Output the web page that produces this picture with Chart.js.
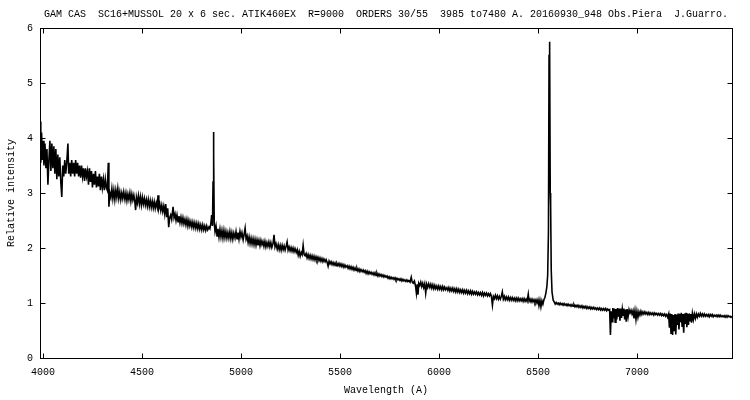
<!DOCTYPE html>
<html>
<head>
<meta charset="utf-8">
<title>GAM CAS spectrum</title>
<script src="https://cdn.jsdelivr.net/npm/chart.js@4.4.1/dist/chart.umd.min.js"></script>
<style>
  html, body { margin: 0; padding: 0; background: #fff; }
  #wrap { width: 750px; height: 400px; position: relative; }
</style>
</head>
<body>
<div id="wrap"><canvas id="spectrum"></canvas></div>
<script>
const titleText = 'GAM CAS  SC16+MUSSOL 20 x 6 sec. ATIK460EX  R=9000  ORDERS 30/55  3985 to7480 A. 20160930_948 Obs.Piera  J.Guarro.';
const xTitle = 'Wavelength (A)';
const yTitle = 'Relative intensity';
const xTicks = [4000, 4500, 5000, 5500, 6000, 6500, 7000];
const yTicks = [0, 1, 2, 3, 4, 5, 6];
const xRange = [3985, 7480];
const yRange = [0, 6];

// [wavelength (A), relative intensity]
const blueSide = [
  [3985,4.30],[3989,3.55],[3993,4.10],[3997,3.60],[4001,3.95],[4005,3.50],[4010,3.90],[4015,3.45],
  [4020,3.80],[4025,3.15],[4030,3.60],[4035,3.95],[4040,3.40],[4045,3.90],[4050,3.45],[4055,3.85],
  [4060,3.35],[4065,3.80],[4070,3.25],[4075,3.70],[4080,3.30],[4085,3.65],[4090,3.20],[4095,2.93],
  [4100,3.50],[4105,3.30],[4110,3.60],[4115,3.35],[4120,3.55],[4126,3.90],[4130,3.35],[4135,3.55],
  [4140,3.30],[4145,3.60],[4150,3.35],[4155,3.55],[4160,3.30],[4165,3.60],[4170,3.35],[4175,3.55],
  [4180,3.30],[4185,3.50],[4190,3.28],[4195,3.50],[4200,3.30],[4205,3.45],[4210,3.22],[4215,3.45],
  [4220,3.30],[4225,3.40],[4230,3.15],[4235,3.45],[4240,3.20],[4245,3.40],[4250,3.10],[4255,3.35],
  [4260,3.15],[4265,3.40],[4270,3.10],[4275,3.30],[4280,3.12],[4285,3.35],[4290,3.05],[4295,3.30],
  [4300,3.10],[4305,3.25],[4310,3.05],[4315,3.25],[4320,3.10],[4325,3.05],[4330,3.55],[4333,2.75],
  [4338,3.00],[4343,2.92],[4348,3.08],[4353,2.90],[4358,3.05],[4363,2.88],[4368,3.05],[4373,2.92],
  [4378,3.08],[4383,2.90],[4388,3.02],[4393,2.88],[4398,3.00],[4403,2.90],[4408,3.02],[4414,2.88],
  [4419,3.00],[4424,2.86],[4429,2.98],[4434,2.88],[4439,3.00],[4444,2.85],[4449,2.98],[4454,2.87],
  [4459,2.96],[4464,2.84],[4468,2.69],[4472,2.92],[4477,2.82],[4482,2.95],[4487,2.80],[4492,2.93],
  [4497,2.78],[4502,2.92],[4507,2.80],[4512,2.90],[4517,2.78],[4522,2.88],[4527,2.76],[4532,2.88],
  [4537,2.75],[4542,2.86],[4547,2.74],[4552,2.85],[4557,2.73],[4562,2.84],[4567,2.72],[4572,2.82],
  [4577,2.74],[4581,2.96],[4585,2.72],[4590,2.80],[4595,2.68],[4600,2.78],[4605,2.66],[4610,2.76],
  [4615,2.62],[4620,2.80],[4625,2.56],[4630,2.72],[4635,2.38],[4640,2.55],[4645,2.60],[4650,2.52],
  [4657,2.75],[4662,2.55],[4667,2.62],[4672,2.50],[4677,2.60],[4682,2.48],[4687,2.58],[4692,2.46],
  [4697,2.56],[4702,2.45],[4707,2.55],[4712,2.44],[4717,2.52],[4722,2.42],[4727,2.52],[4732,2.40],
  [4737,2.50],[4742,2.40],[4747,2.48],[4752,2.38],[4757,2.47],[4762,2.37],[4767,2.46],[4772,2.36],
  [4777,2.45],[4782,2.35],[4787,2.44],[4792,2.34],[4797,2.42],[4802,2.33],[4807,2.42],[4812,2.33],
  [4817,2.40],[4822,2.32],[4827,2.40],[4832,2.33],[4838,2.38],[4843,2.35],[4848,2.45],[4852,2.60],
  [4856,2.40],[4859,3.20],[4861,4.11],[4863,3.70],[4865,2.45],[4869,2.30],[4874,2.40],[4879,2.22],
  [4884,2.35],[4889,2.20],[4894,2.34],[4899,2.20],[4904,2.32],[4909,2.18],[4914,2.32],[4919,2.19],
  [4924,2.30],[4929,2.18],[4934,2.28],[4939,2.18],[4944,2.30],[4949,2.17],[4954,2.28],[4959,2.16],
  [4964,2.27]
];

const greenSide = [
  [4970,2.18],[4975,2.30],[4980,2.17],[4985,2.28],[4990,2.16],[4995,2.30],[5000,2.20],[5005,2.28],
  [5011,2.15],[5016,2.25],[5021,2.36],[5026,2.16],[5031,2.22],[5036,2.10],[5041,2.20],[5046,2.08],
  [5051,2.18],[5056,2.07],[5061,2.17],[5066,2.06],[5071,2.16],[5076,2.05],[5081,2.15],[5086,2.05],
  [5091,2.14],[5096,2.04],[5101,2.14],[5106,2.06],[5111,2.12],[5116,2.03],[5121,2.12],[5126,2.02],
  [5131,2.10],[5136,2.03],[5141,2.11],[5146,2.02],[5151,2.10],[5156,2.01],[5162,2.08],[5167,2.24],
  [5172,2.02],[5177,2.08],[5183,1.98],[5188,2.06],[5193,1.97],[5198,2.05],[5203,1.96],[5208,2.05],
  [5213,1.97],[5218,2.04],[5223,1.96],[5228,2.03],[5233,2.11],[5238,1.96],[5243,2.02],[5248,1.95],
  [5253,2.01],[5258,1.94],[5263,2.00],[5268,1.93],[5273,1.99],[5279,1.92],[5284,1.97],[5289,1.87],
  [5294,1.94],[5299,1.85],[5304,1.92],[5309,1.88],[5314,2.05],[5319,1.88],[5324,1.86],[5329,1.90],
  [5334,1.82],[5339,1.88],[5344,1.81],[5349,1.87],[5354,1.80],[5359,1.86],[5364,1.79],[5369,1.85],
  [5374,1.78],[5379,1.84],[5384,1.78],[5389,1.83],[5394,1.77],[5399,1.82],[5404,1.76],[5409,1.81],
  [5414,1.75],[5419,1.80],[5425,1.75],[5430,1.79],[5435,1.74],[5440,1.67],[5445,1.76],[5450,1.71],
  [5455,1.75],[5460,1.70],[5465,1.74],[5470,1.69],[5475,1.73],[5480,1.68],[5485,1.72],[5490,1.68],
  [5495,1.72],[5500,1.67],[5505,1.71],[5510,1.66],[5515,1.70],[5520,1.65],[5525,1.69],[5530,1.65],
  [5536,1.68],[5541,1.63],[5546,1.67],[5551,1.62],[5556,1.66],[5561,1.61],[5566,1.65],[5571,1.60],
  [5576,1.64],[5581,1.59],[5586,1.63],[5591,1.58],[5596,1.62],[5601,1.57],[5606,1.61],[5612,1.57],
  [5617,1.60],[5622,1.56],[5627,1.59],[5632,1.54],[5637,1.58],[5642,1.53],[5647,1.57],[5652,1.53],
  [5657,1.56],[5662,1.52],[5667,1.55],[5672,1.51],[5677,1.55],[5682,1.50],[5687,1.54],[5692,1.49],
  [5697,1.53],[5702,1.49],[5707,1.52],[5712,1.48],[5717,1.51],[5722,1.47],[5727,1.50],[5733,1.47],
  [5738,1.49],[5743,1.45],[5748,1.48],[5753,1.44],[5758,1.47],[5763,1.44],[5768,1.46],[5773,1.43],
  [5778,1.46],[5783,1.42],[5788,1.45],[5793,1.42],[5798,1.44],[5803,1.41],[5808,1.44],[5813,1.40],
  [5818,1.43],[5823,1.40],[5828,1.42],[5833,1.39],[5838,1.42],[5843,1.39],[5848,1.41],[5854,1.38],
  [5860,1.47],[5865,1.38],[5870,1.36],[5876,1.40],[5882,1.30],[5886,1.18],[5890,1.34],[5894,1.15],
  [5898,1.36],[5903,1.32],[5908,1.38],[5913,1.30],[5918,1.36],[5923,1.28],[5928,1.35],[5933,1.18],
  [5938,1.34],[5943,1.28],[5948,1.35],[5954,1.28],[5959,1.34],[5964,1.27],[5969,1.33],[5974,1.26],
  [5979,1.32],[5984,1.26],[5989,1.31],[5994,1.25],[5999,1.31],[6004,1.25],[6009,1.30],[6014,1.24],
  [6019,1.30],[6024,1.24],[6029,1.29],[6034,1.24],[6040,1.28],[6045,1.23],[6050,1.28],[6055,1.22],
  [6060,1.27],[6065,1.22],[6070,1.27],[6075,1.21],[6080,1.26],[6085,1.20],[6090,1.26],[6095,1.20],
  [6100,1.25],[6105,1.19],[6110,1.24],[6115,1.19],[6120,1.24],[6125,1.18],[6130,1.23],[6135,1.18],
  [6140,1.23],[6145,1.17],[6150,1.22],[6155,1.17],[6160,1.22],[6165,1.16],[6170,1.21],[6175,1.16],
  [6180,1.20],[6185,1.16],[6190,1.20],[6195,1.15],[6200,1.19],[6205,1.15],[6210,1.19],[6215,1.14],
  [6220,1.19],[6225,1.13],[6230,1.18],[6235,1.14],[6240,1.18],[6245,1.13],[6250,1.17],[6255,1.13],
  [6260,1.17],[6265,1.12],[6270,0.96],[6275,1.12],[6280,1.08],[6285,1.14],[6290,1.08],[6295,1.13],
  [6300,1.07],[6305,1.12],[6310,1.07],[6315,1.12],[6320,1.20],[6325,1.07],[6330,1.12],[6335,1.06],
  [6340,1.11],[6345,1.06],[6350,1.11],[6355,1.05],[6360,1.10],[6365,1.05],[6370,1.10],[6375,1.05],
  [6380,1.09],[6385,1.04],[6390,1.09],[6395,1.04],[6400,1.09],[6405,1.04],[6410,1.08],[6415,1.04],
  [6420,1.08],[6425,1.03],[6430,1.08],[6435,1.03],[6440,1.07],[6445,1.03],[6451,1.16],[6455,1.03],
  [6460,1.07],[6465,1.02],[6470,1.07],[6475,1.02],[6480,1.06],[6485,1.01],[6490,1.06],[6495,1.00],
  [6500,1.06],[6505,0.95],[6510,1.05],[6515,0.93],[6520,1.04],[6525,0.98],[6530,1.06]
];

const hAlpha = [
  [6535,1.10],[6540,1.18],[6545,1.30],[6549,1.50],[6553,2.30],[6556,5.50],[6558,5.75],[6560,5.60],
  [6562,3.00],[6564,2.78],[6567,1.60],[6571,1.20],[6577,1.05],[6582,1.02]
];

const redSide = [
  [6587,0.98],[6592,1.01],[6597,0.98],[6602,1.00],[6607,0.97],[6612,1.00],[6617,0.97],[6622,0.99],
  [6627,0.96],[6632,0.99],[6637,0.96],[6642,0.98],[6647,0.95],[6652,0.98],[6657,0.95],[6662,0.97],
  [6667,0.94],[6672,0.97],[6677,0.94],[6682,0.97],[6687,0.93],[6692,0.96],[6697,0.93],[6702,0.96],
  [6707,0.92],[6712,0.95],[6717,0.92],[6722,0.95],[6727,0.91],[6732,0.94],[6737,0.91],[6742,0.94],
  [6747,0.90],[6752,0.93],[6757,0.90],[6762,0.93],[6767,0.89],[6772,0.92],[6777,0.89],[6782,0.92],
  [6787,0.89],[6792,0.91],[6797,0.88],[6802,0.91],[6807,0.88],[6812,0.91],[6817,0.87],[6822,0.90],
  [6827,0.87],[6832,0.90],[6837,0.87],[6842,0.90],[6847,0.86],[6852,0.89],[6857,0.87],[6862,0.88],
  [6866,0.42],[6870,0.85],[6874,0.66],[6878,0.91],[6882,0.72],[6886,0.90],[6890,0.65],[6894,0.89],
  [6898,0.70],[6902,0.91],[6906,0.75],[6910,0.90],[6914,0.68],[6918,0.90],[6922,0.73],[6926,0.89],
  [6930,0.78],[6934,0.90],[6938,0.70],[6942,0.88],[6946,0.66],[6950,0.89],[6955,0.75],[6960,0.88],
  [6965,0.82],[6970,0.87],[6975,0.80],[6980,0.86],[6985,0.72],[6990,0.86],[6995,0.70],[7000,0.85],
  [7005,0.74],[7010,0.84],[7015,0.78],[7020,0.85],[7025,0.79],[7030,0.84],[7035,0.80],[7040,0.84],
  [7045,0.80],[7050,0.83],[7055,0.79],[7060,0.83],[7065,0.79],[7070,0.82],[7075,0.79],[7080,0.82],
  [7085,0.78],[7090,0.82],[7095,0.79],[7100,0.81],[7105,0.78],[7110,0.81],[7115,0.78],[7120,0.81],
  [7125,0.77],[7130,0.80],[7135,0.77],[7140,0.80],[7145,0.76],[7150,0.79],[7155,0.74],[7160,0.80],
  [7164,0.55],[7168,0.81],[7172,0.45],[7176,0.80],[7180,0.42],[7184,0.78],[7188,0.50],[7192,0.80],
  [7196,0.43],[7200,0.79],[7204,0.60],[7208,0.81],[7212,0.52],[7216,0.80],[7220,0.65],[7224,0.82],
  [7228,0.58],[7232,0.80],[7236,0.46],[7240,0.81],[7244,0.62],[7248,0.82],[7252,0.56],[7256,0.80],
  [7260,0.60],[7264,0.81],[7268,0.68],[7272,0.80],[7276,0.64],[7280,0.81],[7285,0.70],[7290,0.80],
  [7295,0.72],[7300,0.80],[7305,0.74],[7310,0.80],[7315,0.76],[7320,0.81],[7325,0.76],[7330,0.80],
  [7335,0.76],[7340,0.80],[7345,0.76],[7350,0.79],[7355,0.76],[7360,0.79],[7365,0.75],[7370,0.79],
  [7375,0.76],[7380,0.79],[7385,0.75],[7390,0.78],[7395,0.76],[7400,0.78],[7405,0.75],[7410,0.78],
  [7415,0.75],[7420,0.78],[7425,0.75],[7430,0.77],[7435,0.75],[7440,0.77],[7445,0.74],[7450,0.77],
  [7455,0.74],[7460,0.77],[7465,0.75],[7470,0.76],[7475,0.74],[7480,0.76]
];

const font = { family: '"Liberation Mono", "DejaVu Sans Mono", monospace', size: 10 };
const ink = '#000';

// gnuplot style frame with inward ticks on all four sides
const frameTicks = {
  id: 'frameTicks',
  afterDatasetsDraw(chart) {
    const { ctx, chartArea: a, scales: { x, y } } = chart;
    const L = Math.round(a.left) + 0.5, R = Math.round(a.right) + 0.5;
    const T = Math.round(a.top) + 0.5, B = Math.round(a.bottom) + 0.5;
    ctx.save();
    ctx.strokeStyle = ink;
    ctx.lineWidth = 1;
    ctx.beginPath();
    xTicks.forEach(v => {
      const px = Math.round(x.getPixelForValue(v)) + 0.5;
      ctx.moveTo(px, B); ctx.lineTo(px, B - 5);
      ctx.moveTo(px, T); ctx.lineTo(px, T + 5);
    });
    yTicks.forEach(v => {
      const py = Math.round(y.getPixelForValue(v)) + 0.5;
      ctx.moveTo(L, py); ctx.lineTo(L + 5, py);
      ctx.moveTo(R, py); ctx.lineTo(R - 5, py);
    });
    ctx.stroke();
    ctx.strokeRect(L, T, R - L, B - T);
    ctx.restore();
  }
};

const points = blueSide.concat(greenSide, hAlpha, redSide).map(([w, v]) => ({ x: w, y: v }));
const plainLabel = v => String(v);

new Chart(document.getElementById('spectrum'), {
  type: 'line',
  data: {
    datasets: [{
      data: points,
      borderColor: ink,
      borderWidth: 1.6,
      pointRadius: 0,
      tension: 0,
      fill: false
    }]
  },
  options: {
    responsive: true,
    maintainAspectRatio: false,
    devicePixelRatio: 1,
    animation: false,
    events: [],
    layout: { padding: 0 },
    plugins: { legend: { display: false }, tooltip: { enabled: false } },
    scales: {
      x: {
        type: 'linear', position: 'bottom', min: xRange[0], max: xRange[1],
        afterBuildTicks: s => { s.ticks = xTicks.map(v => ({ value: v })); },
        afterFit: s => { s.height = 42; },
        grid: { display: false, drawTicks: false },
        border: { display: false },
        ticks: { font, color: ink, padding: 8, maxRotation: 0, autoSkip: false, callback: plainLabel },
        title: { display: true, text: xTitle, font, color: ink, padding: { top: 0, bottom: 4 } }
      },
      x2: {
        type: 'linear', position: 'top', min: xRange[0], max: xRange[1],
        afterFit: s => { s.height = 28; },
        grid: { display: false, drawTicks: false },
        border: { display: false },
        ticks: { display: false },
        title: { display: true, text: titleText, font, color: ink, padding: { top: 8, bottom: 0 } }
      },
      y: {
        type: 'linear', position: 'left', min: yRange[0], max: yRange[1],
        afterBuildTicks: s => { s.ticks = yTicks.map(v => ({ value: v })); },
        afterFit: s => { s.width = 40; },
        grid: { display: false, drawTicks: false },
        border: { display: false },
        ticks: { font, color: ink, padding: 7, callback: plainLabel },
        title: { display: true, text: yTitle, font, color: ink, padding: { top: 5, bottom: 0 } }
      },
      y2: {
        type: 'linear', position: 'right', min: yRange[0], max: yRange[1],
        afterFit: s => { s.width = 18; },
        grid: { display: false, drawTicks: false },
        border: { display: false },
        ticks: { display: false }
      }
    }
  },
  plugins: [frameTicks]
});
</script>
</body>
</html>
